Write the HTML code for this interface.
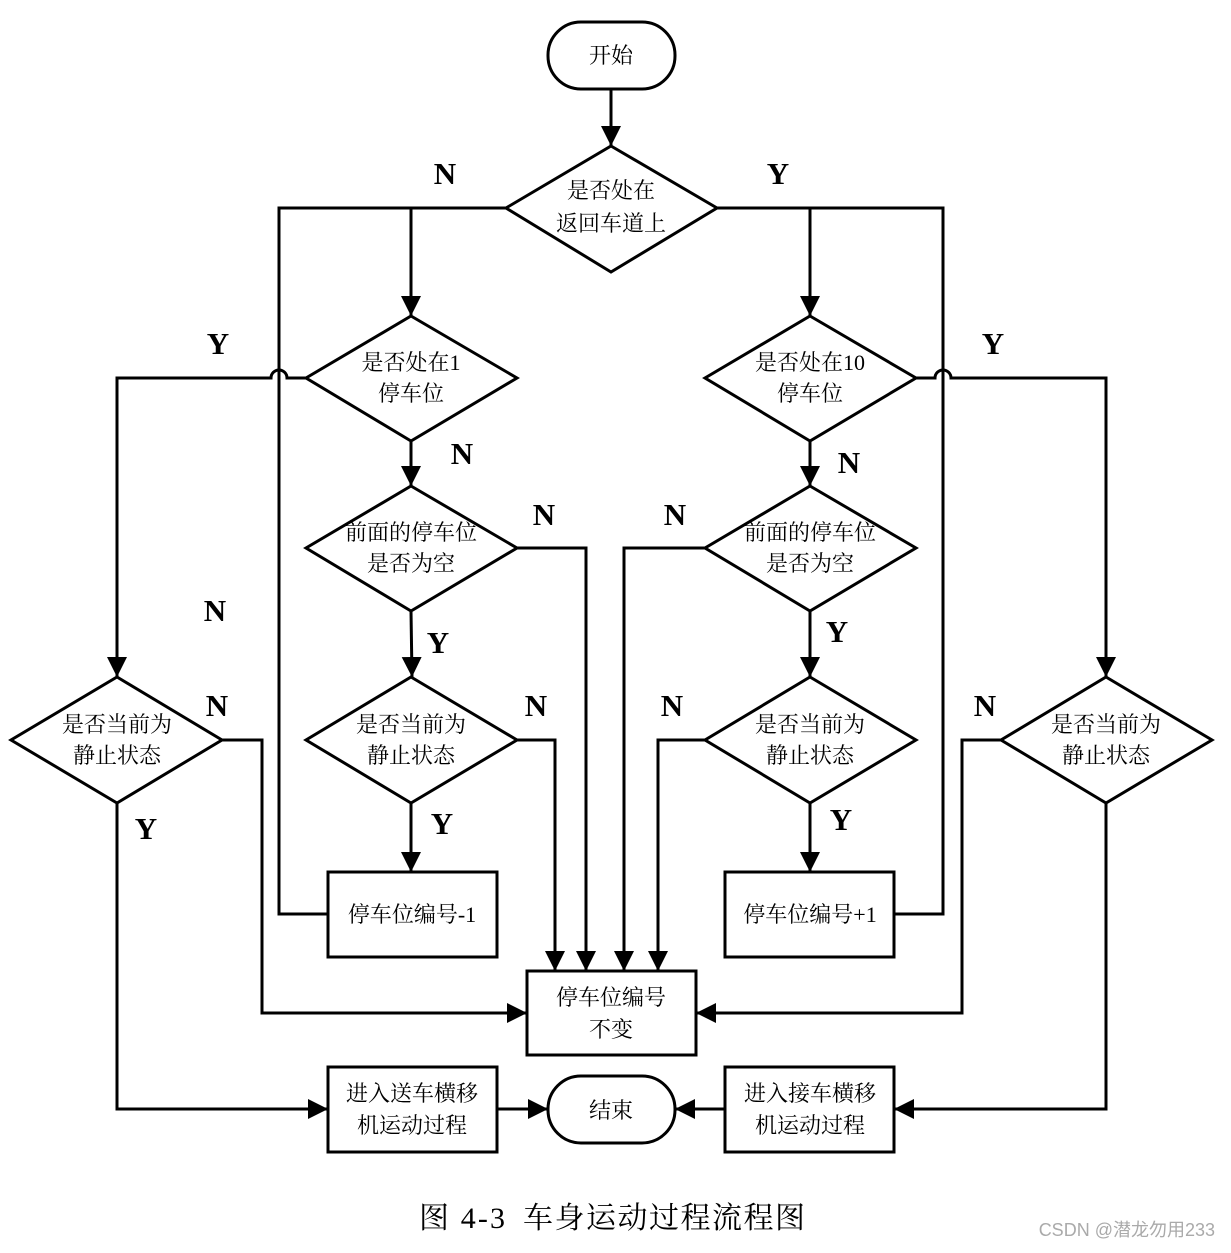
<!DOCTYPE html>
<html><head><meta charset="utf-8"><style>
body{margin:0;background:#fff}
svg text{font-family:"Liberation Serif","Noto Serif CJK SC",serif}
.t{font-size:22px;text-anchor:middle;fill:#000}
.l{font-size:31px;font-weight:bold;text-anchor:middle;fill:#000}
</style></head><body>
<svg width="1231" height="1248" viewBox="0 0 1231 1248" xmlns="http://www.w3.org/2000/svg">
<defs>
<marker id="b" markerWidth="22" markerHeight="22" refX="20" refY="10" orient="auto" markerUnits="userSpaceOnUse"><path d="M0,0 L20,10 L0,20z" fill="#000"/></marker></defs>
<g fill="none" stroke="#000" stroke-width="3">
<rect x="548" y="22" width="127" height="67" rx="33"/>
<rect x="548" y="1076" width="127" height="67" rx="33"/>
<polygon points="611,146 717,208 611,272 506,208"/>
<polygon points="411,316 517,378 411,441 306,378"/>
<polygon points="810,316 916,378 810,441 705,378"/>
<polygon points="411,486 517,548 411,611 306,548"/>
<polygon points="810,486 916,548 810,611 705,548"/>
<polygon points="411,677 517,740 411,803 306,740"/>
<polygon points="810,677 916,740 810,803 705,740"/>
<polygon points="117,677 222,740 117,803 11,740"/>
<polygon points="1106,677 1212,740 1106,803 1001,740"/>
<rect x="328" y="872" width="169" height="85"/>
<rect x="725" y="872" width="169" height="85"/>
<rect x="527" y="971" width="169" height="84"/>
<rect x="328" y="1067" width="169" height="85"/>
<rect x="725" y="1067" width="169" height="85"/>
<g marker-end="url(#b)">
<path d="M611,89 V146"/>
<path d="M506,208 H411 V316"/>
<path d="M717,208 H810 V316"/>
<path d="M306,378 H287 a8,8 0 0 0 -16,0 H117 V677"/>
<path d="M916,378 H935 a8,8 0 0 1 16,0 H1106 V677"/>
<path d="M411,441 V486"/>
<path d="M810,441 V486"/>
<path d="M411,611 L412,677"/>
<path d="M810,611 V677"/>
<path d="M411,803 V872"/>
<path d="M810,803 V872"/>
<path d="M517,548 H586 V971"/>
<path d="M517,740 H555 V971"/>
<path d="M705,548 H624 V971"/>
<path d="M705,740 H658 V971"/>
<path d="M222,740 H262 V1013 H527"/>
<path d="M1001,740 H962 V1013 H696"/>
<path d="M117,803 V1109 H328"/>
<path d="M1106,803 V1109 H894"/>
<path d="M497,1109 H548"/>
<path d="M725,1109 H675"/>
</g>
<path d="M506,208 H279 V914 H328"/>
<path d="M717,208 H943 V914 H894"/>
</g>
<g class="t">
<text x="611" y="63">开始</text>
<text x="611" y="198">是否处在</text><text x="611" y="231">返回车道上</text>
<text x="411" y="370">是否处在1</text><text x="411" y="401">停车位</text>
<text x="810" y="370">是否处在10</text><text x="810" y="401">停车位</text>
<text x="411" y="540">前面的停车位</text><text x="411" y="571">是否为空</text>
<text x="810" y="540">前面的停车位</text><text x="810" y="571">是否为空</text>
<text x="411" y="732">是否当前为</text><text x="411" y="763">静止状态</text>
<text x="810" y="732">是否当前为</text><text x="810" y="763">静止状态</text>
<text x="117" y="732">是否当前为</text><text x="117" y="763">静止状态</text>
<text x="1106" y="732">是否当前为</text><text x="1106" y="763">静止状态</text>
<text x="412" y="922">停车位编号-1</text>
<text x="810" y="922">停车位编号+1</text>
<text x="611" y="1005">停车位编号</text><text x="611" y="1037">不变</text>
<text x="412" y="1101">进入送车横移</text><text x="412" y="1133">机运动过程</text>
<text x="810" y="1101">进入接车横移</text><text x="810" y="1133">机运动过程</text>
<text x="611" y="1118">结束</text>
</g>
<g class="l">
<text x="445" y="184">N</text><text x="778" y="184">Y</text>
<text x="218" y="354">Y</text><text x="993" y="354">Y</text>
<text x="462" y="464">N</text><text x="849" y="473">N</text>
<text x="544" y="525">N</text><text x="675" y="525">N</text>
<text x="215" y="621">N</text>
<text x="438" y="653">Y</text><text x="837" y="642">Y</text>
<text x="217" y="716">N</text><text x="536" y="716">N</text><text x="672" y="716">N</text><text x="985" y="716">N</text>
<text x="146" y="839">Y</text><text x="442" y="834">Y</text><text x="841" y="830">Y</text>
</g>
<text x="419" y="1228" style="font-size:30px" textLength="86" lengthAdjust="spacing">图 4-3</text>
<text x="523" y="1228" style="font-size:30px" textLength="282" lengthAdjust="spacing">车身运动过程流程图</text>
<text x="1215" y="1236" style="font-size:18px;text-anchor:end;fill:#aaa;font-family:'Liberation Sans','Noto Sans CJK SC',sans-serif">CSDN @潜龙勿用233</text>
</svg>
</body></html>
